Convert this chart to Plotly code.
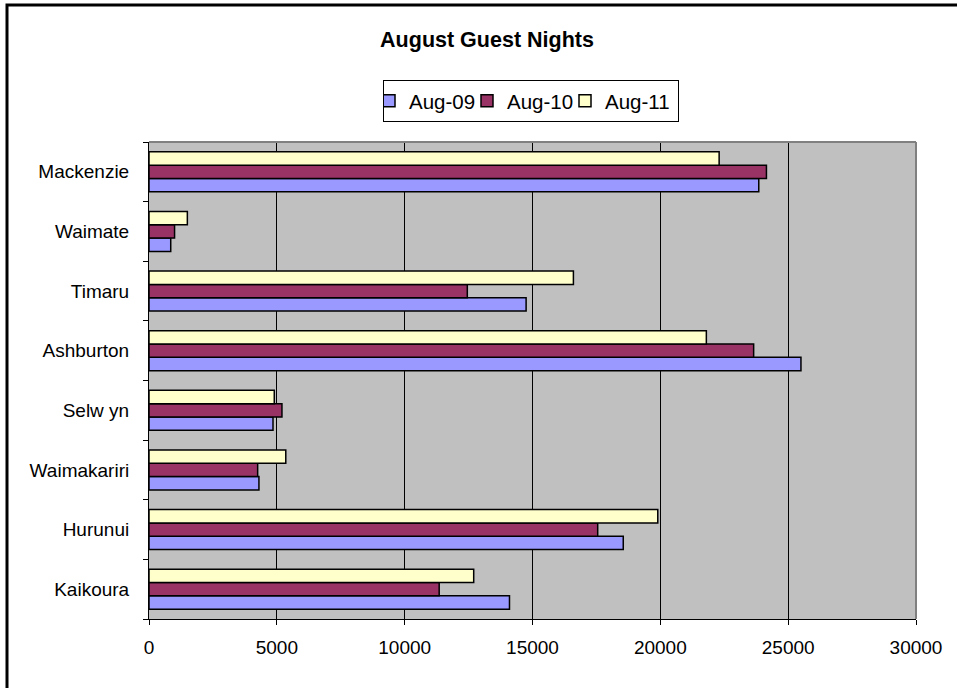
import plotly.graph_objects as go

# Guest nights by district, August of each year
districts = ["Kaikoura", "Hurunui", "Waimakariri", "Selw yn",
             "Ashburton", "Timaru", "Waimate", "Mackenzie"]
aug_09 = [14100, 18550, 4300, 4850, 25500, 14750, 850, 23850]
aug_10 = [11350, 17550, 4250, 5200, 23650, 12450, 1000, 24150]
aug_11 = [12700, 19900, 5350, 4900, 21800, 16600, 1500, 22300]

series = [
    ("Aug-09", aug_09, "#9999FF"),
    ("Aug-10", aug_10, "#993366"),
    ("Aug-11", aug_11, "#FFFFCC"),
]

FONT = "Liberation Sans, Arial, sans-serif"

fig = go.Figure()
for name, vals, color in series:
    fig.add_trace(go.Bar(
        y=districts, x=vals, name=name, orientation="h",
        marker=dict(color=color, line=dict(color="black", width=1.5)),
    ))

W, H = 957, 688
L, R, T, B = 149, 41, 142, 69
pw, ph = W - L - R, H - T - B

fig.update_layout(
    width=W, height=H,
    margin=dict(l=L, r=R, t=T, b=B),
    paper_bgcolor="white",
    plot_bgcolor="#C0C0C0",
    barmode="group",
    bargap=0.33,
    bargroupgap=0,
    font=dict(family=FONT, color="black", size=19),
    title=dict(
        text="<b>August Guest Nights</b>",
        x=487 / W, xref="container", xanchor="center",
        y=1 - 39 / H, yref="container", yanchor="middle",
        font=dict(family=FONT, size=21.5, color="black"),
    ),
    legend=dict(
        orientation="h",
        xref="container", yref="container",
        x=383 / W, xanchor="left",
        y=1 - 80 / H, yanchor="top",
        bordercolor="black", borderwidth=1,
        bgcolor="white",
        itemwidth=30,
        indentation=-15,
        entrywidth=68, entrywidthmode="pixels",
        font=dict(family=FONT, size=20.5, color="black"),
        traceorder="normal",
    ),
    showlegend=True,
)

fig.update_xaxes(
    range=[0, 30000], dtick=5000, tick0=0, tickformat="d",
    showgrid=True, gridcolor="black", gridwidth=1,
    showline=True, linecolor="black", linewidth=1,
    ticks="outside", ticklen=5, tickcolor="black",
    ticklabelstandoff=6,
    zeroline=False, tickfont=dict(size=19),
)
fig.update_yaxes(
    type="category",
    showgrid=False,
    showline=True, linecolor="black", linewidth=1,
    ticks="outside", ticklen=5, tickcolor="black",
    tickson="boundaries",
    ticklabelstandoff=15,
    tickfont=dict(size=19),
)

# gray frame on the top and right of the plotting area
fig.add_shape(type="line", xref="paper", yref="paper",
              x0=0, x1=1, y0=1, y1=1, line=dict(color="#808080", width=2), layer="above")
fig.add_shape(type="line", xref="paper", yref="paper",
              x0=1, x1=1, y0=0, y1=1, line=dict(color="#808080", width=2), layer="above")

# outer chart border (runs off the right and bottom of the page)
fig.add_shape(type="rect", xref="paper", yref="paper",
              x0=(7 - L) / pw, x1=1.5, y0=-0.5, y1=(H - B - 5) / ph,
              line=dict(color="black", width=3), fillcolor="rgba(0,0,0,0)", layer="above")

fig.write_html("out.html")
